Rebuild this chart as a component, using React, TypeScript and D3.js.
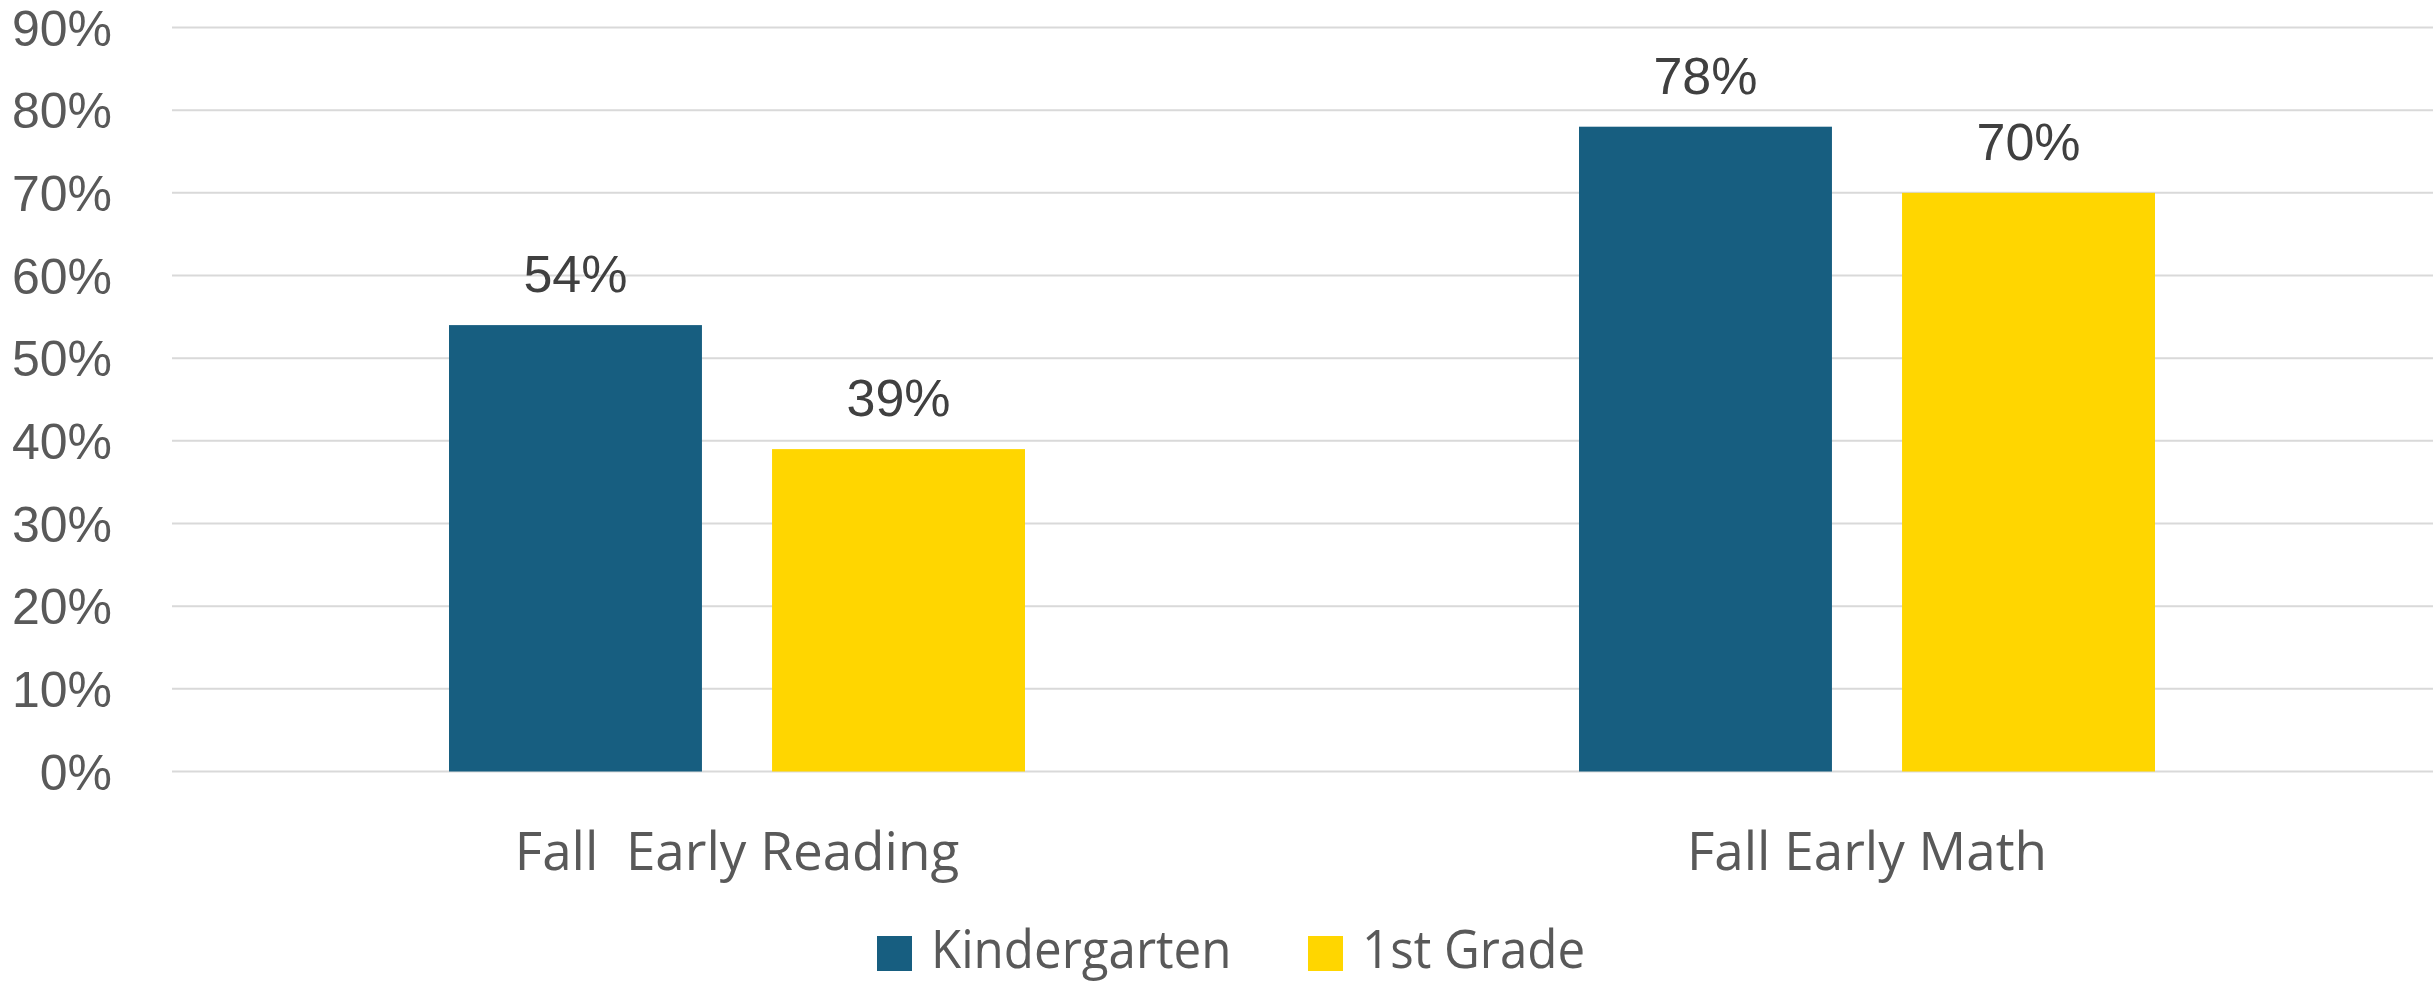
import React, { useRef, useEffect } from 'react';
import * as d3 from 'd3';

const categories = ['Fall  Early Reading', 'Fall Early Math'];
const seriesNames = ['Kindergarten', '1st Grade'];
const kindergarten = [54, 78];
const firstGrade = [39, 70];
const yTicks = [0, 10, 20, 30, 40, 50, 60, 70, 80, 90];
const colors = ['#175E80', '#FFD600'];

const W = 2433;
const H = 986;

const App: React.FC = () => {
  const svgRef = useRef<SVGSVGElement | null>(null);

  useEffect(() => {
    const svg = d3.select(svgRef.current);
    svg.selectAll('*').remove();

    const values = [kindergarten, firstGrade];

    const y = d3.scaleLinear().domain([0, 90]).range([771.5, 27.5]);
    const x0 = d3.scaleBand<string>().domain(categories).range([172, 2432]);
    const x1 = d3.scaleBand<string>()
      .domain(seriesNames)
      .range([0, 576])
      .paddingInner(0.217);
    const groupOffset = (x0.bandwidth() - 576) / 2;

    // grid lines
    svg.append('g')
      .selectAll('line')
      .data(yTicks)
      .enter()
      .append('line')
      .attr('x1', 172)
      .attr('x2', W)
      .attr('y1', d => y(d))
      .attr('y2', d => y(d))
      .attr('stroke', '#D9D9D9')
      .attr('stroke-width', 2);

    // y tick labels
    svg.append('g')
      .selectAll('text')
      .data(yTicks)
      .enter()
      .append('text')
      .attr('x', 112)
      .attr('y', d => y(d))
      .attr('dy', '0.36em')
      .attr('text-anchor', 'end')
      .style('font-family', '"Liberation Sans", Arial, sans-serif')
      .style('font-size', '50px')
      .attr('fill', '#595959')
      .text(d => `${d}%`);

    // bars + labels
    seriesNames.forEach((name, si) => {
      const g = svg.append('g');
      const rows = categories.map((c, ci) => ({ c, v: values[si][ci] }));
      g.selectAll('rect')
        .data(rows)
        .enter()
        .append('rect')
        .attr('x', d => (x0(d.c) ?? 0) + groupOffset + (x1(name) ?? 0))
        .attr('y', d => y(d.v))
        .attr('width', x1.bandwidth())
        .attr('height', d => y(0) - y(d.v))
        .attr('fill', colors[si]);

      g.selectAll('text')
        .data(rows)
        .enter()
        .append('text')
        .attr('x', d => (x0(d.c) ?? 0) + groupOffset + (x1(name) ?? 0) + x1.bandwidth() / 2)
        .attr('y', d => y(d.v) - 33)
        .attr('text-anchor', 'middle')
        .style('font-family', '"Liberation Sans", Arial, sans-serif')
        .style('font-size', '52px')
        .attr('fill', '#404040')
        .text(d => `${d.v}%`);
    });

    // category labels
    svg.append('g')
      .selectAll('text')
      .data(categories)
      .enter()
      .append('text')
      .attr('x', d => (x0(d) ?? 0) + x0.bandwidth() / 2)
      .attr('y', 870)
      .attr('text-anchor', 'middle')
      .style('font-family', '"Open Sans", sans-serif')
      .style('font-size', '53px')
      .style('white-space', 'pre')
      .attr('fill', '#595959')
      .text(d => d);

    // legend (narrow-looking text squeezed a little)
    const legendX = [877, 1308];
    const legend = svg.append('g');
    seriesNames.forEach((name, i) => {
      legend.append('rect')
        .attr('x', legendX[i])
        .attr('y', 936)
        .attr('width', 35)
        .attr('height', 35)
        .attr('fill', colors[i]);
      legend.append('text')
        .attr('transform', `translate(${legendX[i] + 54},968) scale(0.93,1)`)
        .style('font-family', '"Open Sans", sans-serif')
        .style('font-size', '53px')
        .attr('fill', '#595959')
        .text(name);
    });
  }, []);

  return (
    <svg
      ref={svgRef}
      width={W}
      height={H}
      style={{ position: 'absolute', left: 0, top: 0, background: 'white' }}
    />
  );
};

export default App;
